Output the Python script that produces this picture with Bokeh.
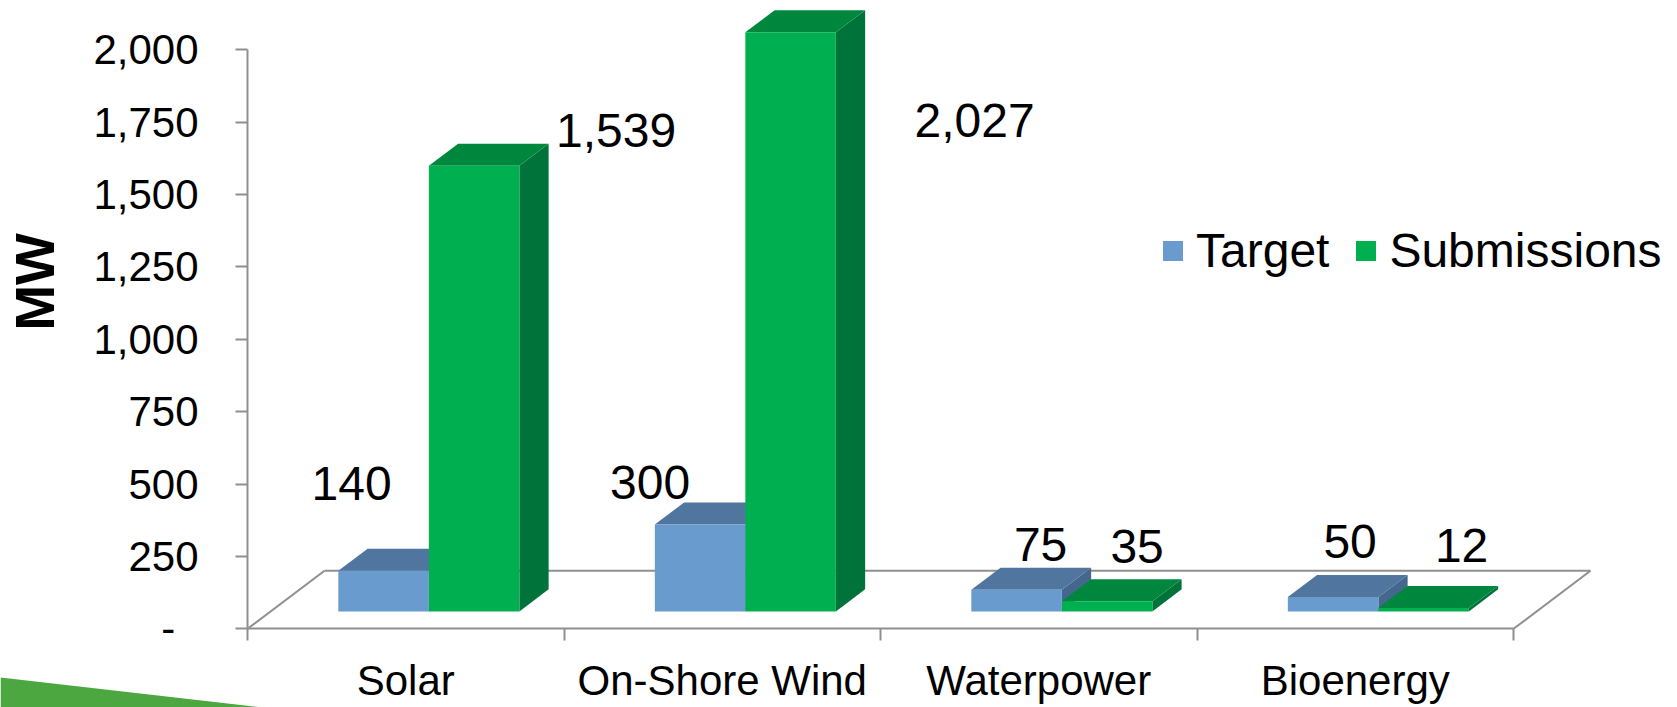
import math
from bokeh.plotting import figure
from bokeh.models import FixedTicker, Range1d, Legend, LegendItem, ColumnDataSource
from bokeh.core.properties import value
from bokeh.embed import file_html
from bokeh.resources import INLINE

# ---------------- data ----------------
categories = ["Solar", "On-Shore Wind", "Waterpower", "Bioenergy"]
target = [140, 300, 75, 50]
submissions = [1539, 2027, 35, 12]
series_names = ["Target", "Submissions"]
y_ticks = [0, 250, 500, 750, 1000, 1250, 1500, 1750, 2000]
y_tick_labels = ["-\u2007", "250", "500", "750", "1,000", "1,250", "1,500", "1,750", "2,000"]
y_title = "MW"

# ---------------- layout / style ----------------
FONT = "Liberation Sans"
W, H = 1677, 707
ORIGIN_X, ORIGIN_Y = 247, 628.3   # pixel position of (0, 0)
PX_CAT = 316.5                    # pixels per category
PX_MW = 72.4 / 250.0              # pixels per MW
AX_MAX = 2000
FLOOR_DX, FLOOR_DY = 77, 58       # projected depth of the floor (px)
BAR_FRONT, BAR_BACK = 0.30, 0.68  # depth fractions of bar faces
GAP = 0.214                       # side gap fraction per category
front_colors = ["#6A9BCE", "#00B050"]
top_colors = ["#50759E", "#00873E"]
side_colors = ["#45678D", "#00733A"]
AXIS_COLOR = "#8f8f8f"
# data-label offsets (px, right / down) from the bar's front-top centre
label_offsets = [
    [(-32, -87), (-50, -42), (24, -45), (17, -55)],
    [(142, -35), (184, 88), (30, -55), (38, -62)],
]


def px2x(px):
    return px / PX_CAT


def px2y(px):
    return px / PX_MW


def sx(px_abs):   # absolute page pixel -> data x
    return px2x(px_abs - ORIGIN_X)


def sy(py_abs):   # absolute page pixel -> data y
    return px2y(ORIGIN_Y - py_abs)


p = figure(frame_width=W, frame_height=H,
           x_range=Range1d(sx(0), sx(W)), y_range=Range1d(sy(H), sy(0)),
           output_backend="svg", toolbar_location=None,
           min_border_left=0, min_border_right=0, min_border_top=0, min_border_bottom=0)
p.outline_line_color = None
p.xgrid.visible = False
p.ygrid.visible = False
p.background_fill_color = "white"
p.border_fill_color = "white"

n = len(categories)

# ---------------- axes ----------------
xa = p.xaxis[0]
xa.fixed_location = 0
xa.ticker = FixedTicker(ticks=[i + 0.5 for i in range(n)], minor_ticks=list(range(n + 1)))
xa.major_label_overrides = {i + 0.5: c for i, c in enumerate(categories)}
xa.bounds = (0, n)
xa.axis_line_color = AXIS_COLOR
xa.axis_line_width = 2
xa.major_tick_in = 0
xa.major_tick_out = 0
xa.minor_tick_in = 0
xa.minor_tick_out = 12
xa.minor_tick_line_color = AXIS_COLOR
xa.minor_tick_line_width = 2
xa.major_label_standoff = 16
xa.major_label_text_font = FONT
xa.major_label_text_font_size = "42px"
xa.major_label_text_color = "black"

ya = p.yaxis[0]
ya.fixed_location = 0
ya.ticker = FixedTicker(ticks=y_ticks, minor_ticks=[])
ya.major_label_overrides = {t: l for t, l in zip(y_ticks, y_tick_labels)}
ya.bounds = (0, AX_MAX)
ya.axis_line_color = AXIS_COLOR
ya.axis_line_width = 2
ya.major_tick_in = 0
ya.major_tick_out = 12
ya.major_tick_line_color = AXIS_COLOR
ya.major_tick_line_width = 2
ya.major_label_standoff = 37
ya.major_label_text_font = FONT
ya.major_label_text_font_size = "42px"
ya.major_label_text_color = "black"

# ---------------- decorative swoosh (slide background) ----------------
p.patch(x=[sx(0), sx(262), sx(0)], y=[sy(677), sy(707), sy(707)],
        fill_color="#4DA740", line_color=None)

# ---------------- floor ----------------
fdx, fdy = px2x(FLOOR_DX), px2y(FLOOR_DY)
p.segment(x0=[0, fdx, n], y0=[0, fdy, 0], x1=[fdx, n + fdx, n + fdx], y1=[fdy, fdy, fdy],
          line_color=AXIS_COLOR, line_width=2)

# ---------------- 3D bars ----------------
ox0, oy0 = px2x(BAR_FRONT * FLOOR_DX), px2y(BAR_FRONT * FLOOR_DY)
ox1, oy1 = px2x(BAR_BACK * FLOOR_DX), px2y(BAR_BACK * FLOOR_DY)
w = (1 - 2 * GAP) / 2
front_renderers = []
for s, vals in enumerate([target, submissions]):
    L, R, B, T = [], [], [], []
    txs, tys, sxs, sys_ = [], [], [], []
    lx, ly, lt = [], [], []
    for i, v in enumerate(vals):
        h = min(v, AX_MAX)
        x0 = i + GAP + s * w
        x1 = x0 + w
        L.append(x0 + ox0); R.append(x1 + ox0); B.append(oy0); T.append(oy0 + h)
        txs.append([x0 + ox0, x1 + ox0, x1 + ox1, x0 + ox1])
        tys.append([oy0 + h, oy0 + h, oy1 + h, oy1 + h])
        sxs.append([x1 + ox0, x1 + ox1, x1 + ox1, x1 + ox0])
        sys_.append([oy0, oy1, oy1 + h, oy0 + h])
        dx, dy = label_offsets[s][i]
        lx.append((x0 + x1) / 2 + ox0 + px2x(dx))
        ly.append(oy0 + h - px2y(dy))
        lt.append(f"{v:,}")
    p.patches(xs=sxs, ys=sys_, fill_color=side_colors[s], line_color=None)
    p.patches(xs=txs, ys=tys, fill_color=top_colors[s], line_color=None)
    fr = p.quad(left=L, right=R, bottom=B, top=T, fill_color=front_colors[s], line_color=None)
    front_renderers.append(fr)
    src = ColumnDataSource(dict(x=lx, y=ly, t=lt))
    p.text(x="x", y="y", text="t", source=src, text_font=value(FONT), text_font_size="48px",
           text_align="center", text_baseline="middle", text_color="black")

# ---------------- y-axis title ----------------
p.text(x=[sx(34)], y=[sy(281.5)], text=[y_title], angle=math.pi / 2,
       text_font=value(FONT), text_font_style="bold", text_font_size="55px",
       text_align="center", text_baseline="middle", text_color="black")

# ---------------- legend ----------------
legend = Legend(items=[LegendItem(label=series_names[k], renderers=[front_renderers[k]]) for k in range(2)],
                orientation="horizontal", location=(1160, H - 278),
                glyph_width=25, glyph_height=25, label_standoff=11, spacing=24,
                padding=0, margin=0, border_line_color=None, background_fill_alpha=0,
                label_text_font=FONT, label_text_font_size="48px", label_text_color="black")
p.add_layout(legend)

open("out.html", "w").write(file_html(p, INLINE))
